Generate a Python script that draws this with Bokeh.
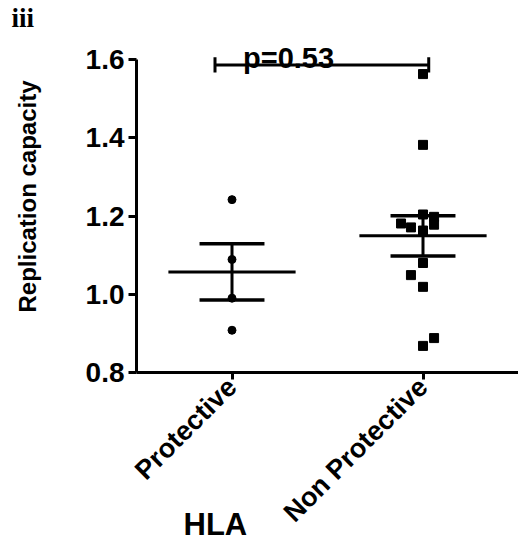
import math
import numpy as np
from bokeh.plotting import figure
from bokeh.models import FixedTicker, Range1d, Title, NumeralTickFormatter
from bokeh.embed import file_html
from bokeh.resources import INLINE
from bokeh.core.properties import value

# ---- data ----
categories = ["Protective", "Non Protective"]
category_pos = [1, 2]
protective = [1.242, 1.089, 0.990, 0.908]
protective_jitter = [0, 0, 0, 0]
non_protective = [1.563, 1.382, 1.204, 1.198, 1.178, 1.181, 1.171, 1.163,
                  1.080, 1.049, 1.019, 0.888, 0.868]
non_protective_jitter = [0, 0, 0, 0.058, 0.058, -0.115, -0.063, 0,
                         0, -0.063, 0, 0.058, 0]
p_value_text = "p=0.53"
y_ticks = [0.8, 1.0, 1.2, 1.4, 1.6]
panel_tag = "iii"
x_title = "HLA"
y_title = "Replication capacity"

FONT = value("Liberation Sans")

p = figure(width=518, height=541,
           x_range=Range1d(0.5, 2.5), y_range=Range1d(0.8, 1.7),
           output_backend="svg", toolbar_location=None,
           min_border_left=136, min_border_right=0,
           min_border_top=20, min_border_bottom=169)
p.grid.visible = False
p.outline_line_color = None
p.background_fill_color = "white"

# spacer (plot title, outermost) + panel tag
p.title.text = " "
p.title.text_font_size = "7px"
p.title.standoff = 1
p.add_layout(Title(text=panel_tag, align="left", offset=-125,
                   vertical_align="bottom", standoff=-24,
                   text_font="Liberation Serif", text_font_size="27px",
                   text_font_style="bold", text_color="black"), "above")

# points
p.scatter(x=[category_pos[0] + j for j in protective_jitter], y=protective,
          marker="circle", size=8, color="black")
p.scatter(x=[category_pos[1] + j for j in non_protective_jitter], y=non_protective,
          marker="square", size=9, color="black")

# mean +/- SEM
for c, vals in zip(category_pos, [protective, non_protective]):
    arr = np.array(vals)
    m = arr.mean()
    sem = arr.std(ddof=1) / math.sqrt(len(arr))
    p.segment(x0=[c - 0.333], x1=[c + 0.333], y0=[m], y1=[m],
              line_color="black", line_width=3)
    p.segment(x0=[c - 0.17, c - 0.17], x1=[c + 0.17, c + 0.17],
              y0=[m - sem, m + sem], y1=[m - sem, m + sem],
              line_color="black", line_width=3.5)
    p.segment(x0=[c], x1=[c], y0=[m - sem], y1=[m + sem],
              line_color="black", line_width=3)

# significance bracket
br_left, br_right, br_y = 0.911, 2.03, 1.586
p.segment(x0=[br_left], x1=[br_right], y0=[br_y], y1=[br_y],
          line_color="black", line_width=3)
p.segment(x0=[br_left, br_right], x1=[br_left, br_right],
          y0=[1.567, 1.567], y1=[1.606, 1.606],
          line_color="black", line_width=3)
p.text(x=[1.296], y=[1.605], text=[p_value_text], text_align="center",
       text_baseline="alphabetic", text_font=FONT, text_font_size="29px",
       text_font_style="bold", text_color="black")

# y axis
ya = p.yaxis[0]
ya.ticker = FixedTicker(ticks=y_ticks)
ya.formatter = NumeralTickFormatter(format="0.0")
ya.bounds = (0.8, 1.6)
ya.axis_line_width = 3
ya.major_tick_line_width = 3
ya.major_tick_out = 8
ya.major_tick_in = 0
ya.minor_tick_out = 0
ya.minor_tick_in = 0
ya.major_label_standoff = 4
ya.major_label_text_font = "Liberation Sans"
ya.major_label_text_font_size = "28px"
ya.major_label_text_font_style = "bold"
ya.major_label_text_color = "black"
ya.axis_label = y_title
ya.axis_label_text_font = "Liberation Sans"
ya.axis_label_text_font_size = "24px"
ya.axis_label_text_font_style = "bold"
ya.axis_label_text_color = "black"
ya.axis_label_standoff = 42

# x axis
xa = p.xaxis[0]
xa.ticker = FixedTicker(ticks=category_pos)
xa.major_label_overrides = {pos: name for pos, name in zip(category_pos, categories)}
xa.major_label_orientation = math.pi / 4
xa.axis_line_width = 3
xa.major_tick_line_width = 3
xa.major_tick_out = 7
xa.major_tick_in = 0
xa.minor_tick_out = 0
xa.minor_tick_in = 0
xa.major_label_standoff = 3
xa.major_label_text_font = "Liberation Sans"
xa.major_label_text_font_size = "27px"
xa.major_label_text_font_style = "bold"
xa.major_label_text_color = "black"

# x axis title, placed under the category labels like the reference
p.add_layout(Title(text=x_title, align="left", offset=47,
                   vertical_align="top", standoff=-70,
                   text_font="Liberation Sans", text_font_size="31px",
                   text_font_style="bold", text_color="black"), "below")

open("out.html", "w").write(file_html(p, INLINE))
